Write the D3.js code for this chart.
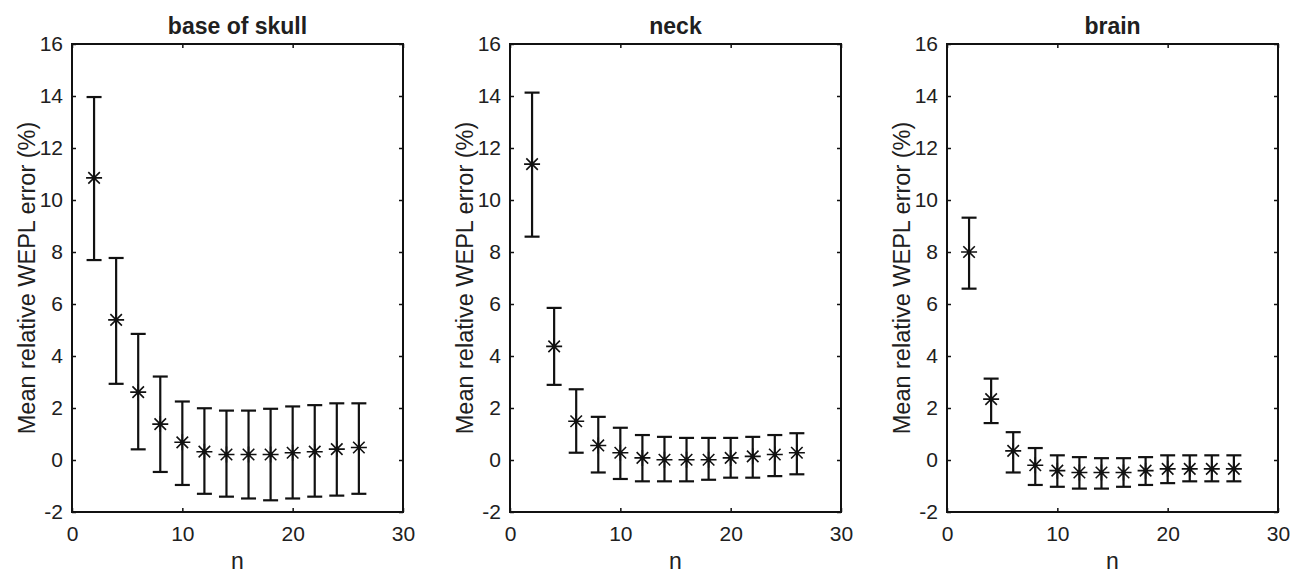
<html>
<head>
<meta charset="utf-8">
<script src="https://cdn.jsdelivr.net/npm/d3@7"></script>
<style>
  body { margin: 0; background: #fff; }
  svg text { font-family: "Liberation Sans", Arial, sans-serif; fill: #202020; }
</style>
</head>
<body>
<script>
// n values shared by all three panels
var nValues = [2, 4, 6, 8, 10, 12, 14, 16, 18, 20, 22, 24, 26];
var panelTitles = ["base of skull", "neck", "brain"];
var yTicks = [-2, 0, 2, 4, 6, 8, 10, 12, 14, 16];
var xTicks = [0, 10, 20, 30];

// base of skull
var skullMean = [10.85, 5.39, 2.61, 1.38, 0.68, 0.32, 0.21, 0.21, 0.21, 0.28, 0.32, 0.42, 0.48];
var skullLow  = [7.69, 2.93, 0.41, -0.46, -0.96, -1.30, -1.41, -1.48, -1.55, -1.48, -1.41, -1.37, -1.30];
var skullHigh = [13.96, 7.77, 4.85, 3.21, 2.25, 1.99, 1.90, 1.90, 1.97, 2.06, 2.11, 2.18, 2.18];

// neck
var neckMean = [11.38, 4.37, 1.49, 0.56, 0.28, 0.08, 0.01, 0.01, 0.01, 0.08, 0.14, 0.21, 0.28];
var neckLow  = [8.59, 2.89, 0.28, -0.48, -0.73, -0.82, -0.82, -0.82, -0.76, -0.68, -0.68, -0.62, -0.55];
var neckHigh = [14.13, 5.85, 2.72, 1.66, 1.24, 0.96, 0.89, 0.85, 0.85, 0.85, 0.89, 0.96, 1.03];

// brain
var brainMean = [8.0, 2.34, 0.35, -0.2, -0.41, -0.48, -0.48, -0.48, -0.41, -0.34, -0.34, -0.34, -0.34];
var brainLow  = [6.59, 1.42, -0.48, -0.96, -1.03, -1.10, -1.10, -1.03, -0.96, -0.89, -0.82, -0.82, -0.82];
var brainHigh = [9.32, 3.13, 1.07, 0.46, 0.18, 0.11, 0.07, 0.07, 0.11, 0.18, 0.18, 0.18, 0.18];

var panels = [
  { title: panelTitles[0], mean: skullMean, low: skullLow, high: skullHigh, left: 72 },
  { title: panelTitles[1], mean: neckMean,  low: neckLow,  high: neckHigh,  left: 510 },
  { title: panelTitles[2], mean: brainMean, low: brainLow, high: brainHigh, left: 947 }
];

var width = 1290, height = 574,
    plotTop = 44, plotBottom = 512, plotW = 331,
    capHalf = 7.5, starR = 8;

var svg = d3.select("body").append("svg")
  .attr("width", width)
  .attr("height", height);

var y = d3.scaleLinear().domain([-2, 16]).range([plotBottom, plotTop]);
var plain = function(d) { return String(d); };   // hyphen minus like the original

panels.forEach(function(p) {
  var x = d3.scaleLinear().domain([0, 30]).range([p.left, p.left + plotW]);
  var g = svg.append("g");

  // axes with inward ticks, labels only left and bottom
  var ax = g.append("g").attr("transform", "translate(" + p.left + ",0)")
    .call(d3.axisLeft(y).tickValues(yTicks).tickFormat(plain).tickSizeInner(-4).tickSizeOuter(0).tickPadding(9));
  ax.selectAll("text").style("font-size", "21px");
  g.append("g").attr("transform", "translate(" + (p.left + plotW) + ",0)")
    .call(d3.axisRight(y).tickValues(yTicks).tickSizeInner(-4).tickSizeOuter(0).tickFormat(""));
  var bx = g.append("g").attr("transform", "translate(0," + plotBottom + ")")
    .call(d3.axisBottom(x).tickValues(xTicks).tickFormat(plain).tickSizeInner(-4).tickSizeOuter(0).tickPadding(14));
  bx.selectAll("text").style("font-size", "21px");
  g.append("g").attr("transform", "translate(0," + plotTop + ")")
    .call(d3.axisTop(x).tickValues(xTicks).tickSizeInner(-4).tickSizeOuter(0).tickFormat(""));
  g.selectAll(".domain").remove();
  g.selectAll(".tick line").attr("stroke", "#111").attr("stroke-width", 1.5);

  g.append("rect")
    .attr("x", p.left).attr("y", plotTop)
    .attr("width", plotW).attr("height", plotBottom - plotTop)
    .attr("fill", "none").attr("stroke", "#111").attr("stroke-width", 2);

  // title and labels
  g.append("text")
    .attr("x", p.left + plotW / 2).attr("y", 34)
    .attr("text-anchor", "middle")
    .style("font-size", "23px").style("font-weight", "bold")
    .text(p.title);
  g.append("text")
    .attr("x", p.left + plotW / 2).attr("y", 569)
    .attr("text-anchor", "middle")
    .style("font-size", "23px")
    .text("n");
  g.append("text")
    .attr("transform", "translate(" + (p.left - 37) + "," + ((plotTop + plotBottom) / 2) + ") rotate(-90)")
    .attr("text-anchor", "middle")
    .style("font-size", "23.5px")
    .text("Mean relative WEPL error (%)");

  // error bars
  var bars = g.selectAll("g.eb").data(nValues).enter().append("g").attr("class", "eb");
  bars.append("line")
    .attr("x1", function(d) { return x(d); }).attr("x2", function(d) { return x(d); })
    .attr("y1", function(d, i) { return y(p.low[i]); })
    .attr("y2", function(d, i) { return y(p.high[i]); });
  bars.append("line")
    .attr("x1", function(d) { return x(d) - capHalf; }).attr("x2", function(d) { return x(d) + capHalf; })
    .attr("y1", function(d, i) { return y(p.low[i]); })
    .attr("y2", function(d, i) { return y(p.low[i]); });
  bars.append("line")
    .attr("x1", function(d) { return x(d) - capHalf; }).attr("x2", function(d) { return x(d) + capHalf; })
    .attr("y1", function(d, i) { return y(p.high[i]); })
    .attr("y2", function(d, i) { return y(p.high[i]); });
  bars.selectAll("line").attr("stroke", "#111").attr("stroke-width", 2.2);

  // asterisk markers (+ and x overlaid)
  var star = "M0," + (-starR) + "V" + starR +
             "M" + (-starR) + ",0H" + starR +
             "M" + (-starR * 0.72) + "," + (-starR * 0.72) + "L" + (starR * 0.72) + "," + (starR * 0.72) +
             "M" + (-starR * 0.72) + "," + (starR * 0.72) + "L" + (starR * 0.72) + "," + (-starR * 0.72);
  g.selectAll("path.star").data(nValues).enter().append("path")
    .attr("class", "star")
    .attr("transform", function(d, i) { return "translate(" + x(d) + "," + y(p.mean[i]) + ")"; })
    .attr("d", star)
    .attr("fill", "none").attr("stroke", "#111").attr("stroke-width", 1.6);
  g.selectAll("circle.dot").data(nValues).enter().append("circle")
    .attr("cx", function(d) { return x(d); })
    .attr("cy", function(d, i) { return y(p.mean[i]); })
    .attr("r", 2.2).attr("fill", "#111");
});
</script>
</body>
</html>
